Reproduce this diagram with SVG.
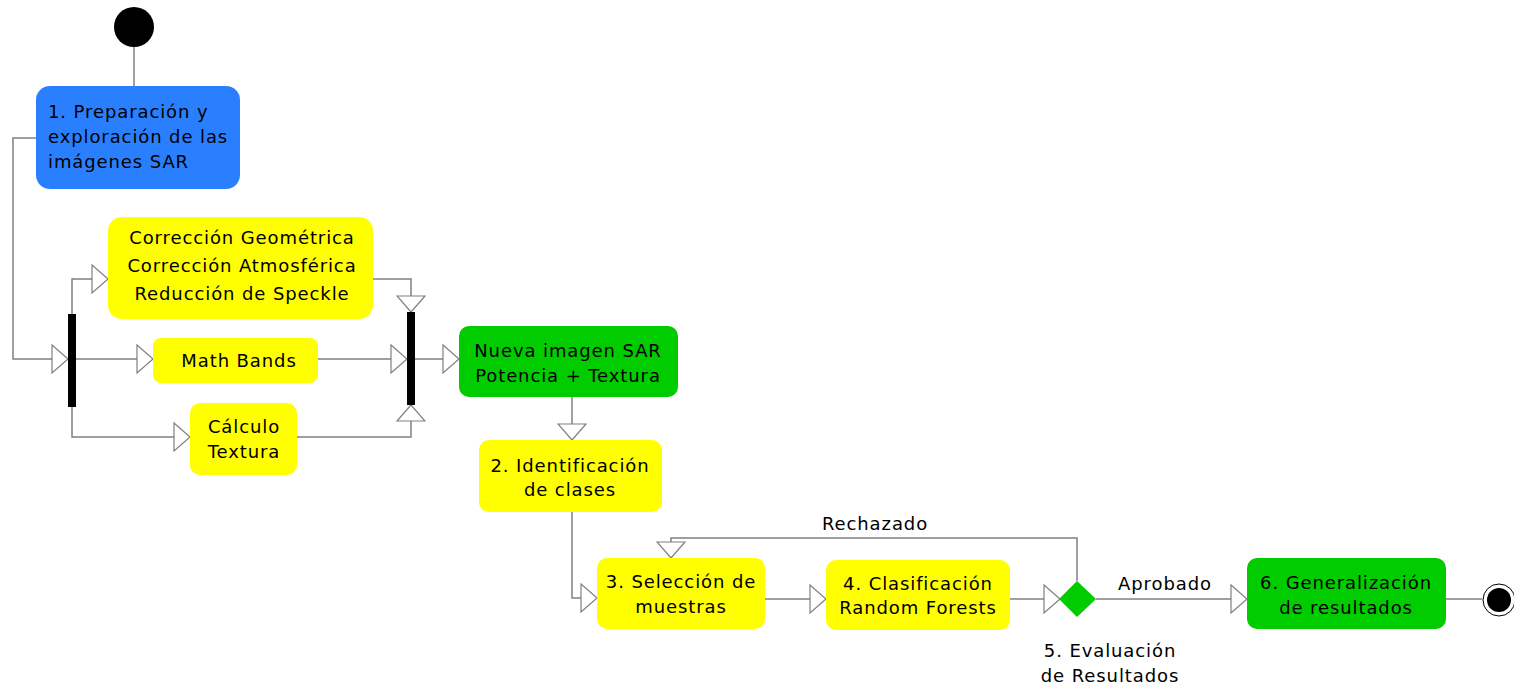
<svg xmlns="http://www.w3.org/2000/svg" width="1514" height="685" viewBox="0 0 1514 685">
<defs>
<marker id="arr" viewBox="0 0 18 30" refX="17" refY="15" markerWidth="18" markerHeight="30" markerUnits="userSpaceOnUse" orient="auto">
<path d="M1,1 L17,15 L1,29 Z" fill="#ffffff" stroke="#808080" stroke-width="1.2"/>
</marker>
<style>
.ln{fill:none;stroke:#808080;stroke-width:1.5}
.t{font-family:"DejaVu Sans",sans-serif;font-size:18px;letter-spacing:0.9px;fill:#000}
.c{text-anchor:middle}
.y{fill:#ffff00}
.g{fill:#00cc00}
</style>
</defs>
<rect width="1514" height="685" fill="#ffffff"/>
<g id="connectors">
<path class="ln" d="M134,47 L134,87"/>
<path class="ln" d="M36,138 L13,138 L13,359 L68,359" marker-end="url(#arr)"/>
<path class="ln" d="M72,314 L72,279 L108,279" marker-end="url(#arr)"/>
<path class="ln" d="M76,359 L153,359" marker-end="url(#arr)"/>
<path class="ln" d="M72,407 L72,437 L190,437" marker-end="url(#arr)"/>
<path class="ln" d="M373,279 L411,279 L411,312" marker-end="url(#arr)"/>
<path class="ln" d="M318,359 L407,359" marker-end="url(#arr)"/>
<path class="ln" d="M297,437 L411,437 L411,405" marker-end="url(#arr)"/>
<path class="ln" d="M415,359 L459,359" marker-end="url(#arr)"/>
<path class="ln" d="M572,397 L572,440" marker-end="url(#arr)"/>
<path class="ln" d="M572,512 L572,598 L597,598" marker-end="url(#arr)"/>
<path class="ln" d="M765,599 L826,599" marker-end="url(#arr)"/>
<path class="ln" d="M1010,599 L1060,599" marker-end="url(#arr)"/>
<path class="ln" d="M1077,581 L1077,538 L671,538 L671,558" marker-end="url(#arr)"/>
<path class="ln" d="M1096,599 L1247,599" marker-end="url(#arr)"/>
<path class="ln" d="M1446,599 L1482,599"/>
<text class="t c" x="875" y="530">Rechazado</text>
<text class="t c" x="1165" y="590">Aprobado</text>
</g>
<g id="start"><circle cx="134" cy="27" r="20" fill="#000"/></g>
<g id="n1">
<rect x="36" y="86" width="204" height="103" rx="14" fill="#2a7fff"/>
<text class="t" x="48" y="118">1. Preparación y</text>
<text class="t" x="48" y="143">exploración de las</text>
<text class="t" x="48" y="168">imágenes SAR</text>
</g>
<g id="fork"><rect x="68" y="314" width="8" height="93" fill="#000"/></g>
<g id="correccion">
<rect class="y" x="108" y="217" width="265" height="102" rx="14"/>
<text class="t c" x="242" y="244">Corrección Geométrica</text>
<text class="t c" x="242" y="272">Corrección Atmosférica</text>
<text class="t c" x="242" y="300">Reducción de Speckle</text>
</g>
<g id="math">
<rect class="y" x="153" y="338" width="165" height="45" rx="8"/>
<text class="t c" x="239" y="367">Math Bands</text>
</g>
<g id="calculo">
<rect class="y" x="190" y="403" width="107" height="72" rx="10"/>
<text class="t c" x="244" y="433">Cálculo</text>
<text class="t c" x="244" y="458">Textura</text>
</g>
<g id="join"><rect x="407" y="312" width="8" height="93" fill="#000"/></g>
<g id="nueva">
<rect class="g" x="459" y="326" width="219" height="71" rx="10"/>
<text class="t c" x="568" y="357">Nueva imagen SAR</text>
<text class="t c" x="568" y="382">Potencia + Textura</text>
</g>
<g id="n2">
<rect class="y" x="479" y="440" width="183" height="72" rx="10"/>
<text class="t c" x="570" y="472">2. Identificación</text>
<text class="t c" x="570" y="496">de clases</text>
</g>
<g id="n3">
<rect class="y" x="597" y="558" width="168" height="71" rx="10"/>
<text class="t c" x="681" y="588">3. Selección de</text>
<text class="t c" x="681" y="613">muestras</text>
</g>
<g id="n4">
<rect class="y" x="826" y="560" width="184" height="70" rx="10"/>
<text class="t c" x="918" y="590">4. Clasificación</text>
<text class="t c" x="918" y="614">Random Forests</text>
</g>
<g id="n5">
<path d="M1077,581 L1096,599 L1077,617 L1059,599 Z" fill="#00cc00"/>
<text class="t c" x="1110" y="657">5. Evaluación</text>
<text class="t c" x="1110" y="682">de Resultados</text>
</g>
<g id="n6">
<rect class="g" x="1247" y="558" width="199" height="71" rx="10"/>
<text class="t c" x="1346" y="589">6. Generalización</text>
<text class="t c" x="1346" y="614">de resultados</text>
</g>
<g id="end">
<circle cx="1499" cy="600" r="16" fill="#fff" stroke="#000" stroke-width="1"/>
<circle cx="1499" cy="600" r="12" fill="#000"/>
</g>
</svg>
